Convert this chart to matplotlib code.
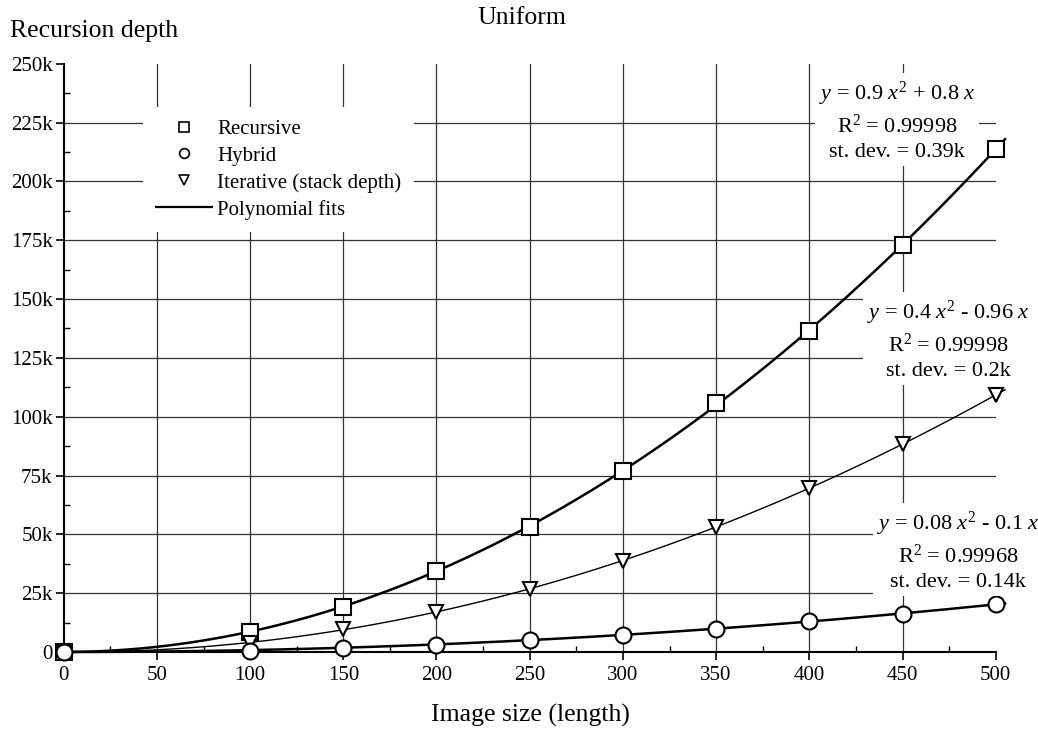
import numpy as np
import matplotlib
matplotlib.use("Agg")
import matplotlib.pyplot as plt
from matplotlib.lines import Line2D

plt.rcParams['font.family'] = ['Liberation Serif', 'DejaVu Serif']
plt.rcParams['mathtext.fontset'] = 'custom'
plt.rcParams['mathtext.rm'] = 'Liberation Serif'
plt.rcParams['mathtext.it'] = 'Liberation Serif:italic'

# ---- data (depth in thousands) ----
image_size = [0, 100, 150, 200, 250, 300, 350, 400, 450, 500]
recursive = [0, 8.6, 19.3, 34.6, 53.1, 76.9, 105.7, 136.6, 173.0, 213.6]
iterative = [0, 4.0, 9.6, 17.1, 26.8, 38.7, 53.3, 69.6, 88.4, 109.2]
hybrid = [0, 0.6, 1.8, 3.0, 5.2, 7.4, 9.9, 13.3, 16.0, 20.3]

x_ticks = [0, 50, 100, 150, 200, 250, 300, 350, 400, 450, 500]
y_ticks = [0, 25, 50, 75, 100, 125, 150, 175, 200, 225, 250]
y_tick_labels = ['0', '25k', '50k', '75k', '100k', '125k', '150k', '175k',
                 '200k', '225k', '250k']

series_labels = ['Recursive', 'Hybrid', 'Iterative (stack depth)', 'Polynomial fits']
fit_texts = [
    '$y$ = 0.9 $x^2$ + 0.8 $x$\n$\\mathrm{R}^2$ = 0.99998\nst. dev. = 0.39k',
    '$y$ = 0.4 $x^2$ - 0.96 $x$\n$\\mathrm{R}^2$ = 0.99998\nst. dev. = 0.2k',
    '$y$ = 0.08 $x^2$ - 0.1 $x$\n$\\mathrm{R}^2$ = 0.99968\nst. dev. = 0.14k',
]

W, H = 1038, 731
fig = plt.figure(figsize=(W / 100, H / 100), dpi=100)
ax = fig.add_axes([63.7 / W, 1 - 652 / H, 932 / W, 588.3 / H])

xs = np.array(image_size, dtype=float)


def quad_fit(ys):
    A = np.vstack([xs ** 2, xs]).T
    coef, *_ = np.linalg.lstsq(A, np.array(ys, dtype=float), rcond=None)
    xx = np.linspace(0, 505, 300)
    return xx, coef[0] * xx ** 2 + coef[1] * xx


for ys, lw in [(recursive, 1.8), (iterative, 1.0), (hybrid, 1.8)]:
    xx, yy = quad_fit(ys)
    ax.plot(xx, yy, color='black', lw=lw, clip_on=False, zorder=3)

mk = dict(linestyle='none', markerfacecolor='white', markeredgecolor='black',
          markeredgewidth=1.5, clip_on=False, zorder=4)
ax.plot(xs, recursive, marker='s', markersize=11, **mk)
ax.plot(xs, iterative, marker='v', markersize=10.5, **mk)
ax.plot(xs, hybrid, marker='o', markersize=11.5, **mk)

ax.set_xlim(0, 500)
ax.set_ylim(0, 250)
ax.set_xticks(x_ticks)
ax.set_xticks(np.arange(25, 500, 50), minor=True)
ax.set_yticks(y_ticks)
ax.set_yticklabels(y_tick_labels)
ax.set_yticks(np.arange(12.5, 250, 25), minor=True)

for s in ['top', 'right']:
    ax.spines[s].set_visible(False)
for s in ['left', 'bottom']:
    ax.spines[s].set_linewidth(1.5)

ax.tick_params(axis='both', which='major', direction='out', length=6, width=1.2,
               labelsize=15)
ax.tick_params(axis='x', which='major', pad=4)
ax.tick_params(axis='y', which='major', pad=2)
ax.tick_params(axis='both', which='minor', direction='in', length=4, width=1.0)

ax.set_axisbelow(True)
ax.grid(True, which='major', color='#333333', lw=0.9)
for gl, t in zip(ax.xaxis.get_gridlines(), x_ticks):
    if t in (0, 500):
        gl.set_visible(False)
for gl, t in zip(ax.yaxis.get_gridlines(), y_ticks):
    if t in (0, 250):
        gl.set_visible(False)

# legend
handles = [
    Line2D([], [], linestyle='none', marker='s', markersize=7,
           markerfacecolor='white', markeredgecolor='black', markeredgewidth=1.2),
    Line2D([], [], linestyle='none', marker='o', markersize=7,
           markerfacecolor='white', markeredgecolor='black', markeredgewidth=1.2),
    Line2D([], [], linestyle='none', marker='v', markersize=7.5,
           markerfacecolor='white', markeredgecolor='black', markeredgewidth=1.2),
    Line2D([], [], color='black', lw=1.6),
]
leg = ax.legend(handles, series_labels, loc='upper left',
                bbox_to_anchor=(143 / W, 1 - 107 / H), bbox_transform=fig.transFigure,
                borderaxespad=0, fontsize=15, frameon=True, fancybox=False,
                facecolor='white', edgecolor='none', framealpha=1,
                handlelength=2.7, handletextpad=0.25, labelspacing=0.34,
                borderpad=0.6)
leg.set_zorder(5)

# fit annotations
ann_pos = [(897, 121), (948, 340), (958, 551)]
for txt, (px, py) in zip(fit_texts, ann_pos):
    fig.text(px / W, 1 - py / H, txt, ha='center', va='center', fontsize=16,
             linespacing=1.35, zorder=6,
             bbox=dict(facecolor='white', edgecolor='none', pad=3))

fig.text(521.7 / W, 1 - 18.5 / H, 'Uniform', ha='center', va='center', fontsize=18.5)
fig.text(10 / W, 1 - 31 / H, 'Recursion depth', ha='left', va='center', fontsize=18.5)
fig.text(530 / W, 1 - 715 / H, 'Image size (length)', ha='center', va='center',
         fontsize=18.5)

fig.savefig('out.png', dpi=100)
